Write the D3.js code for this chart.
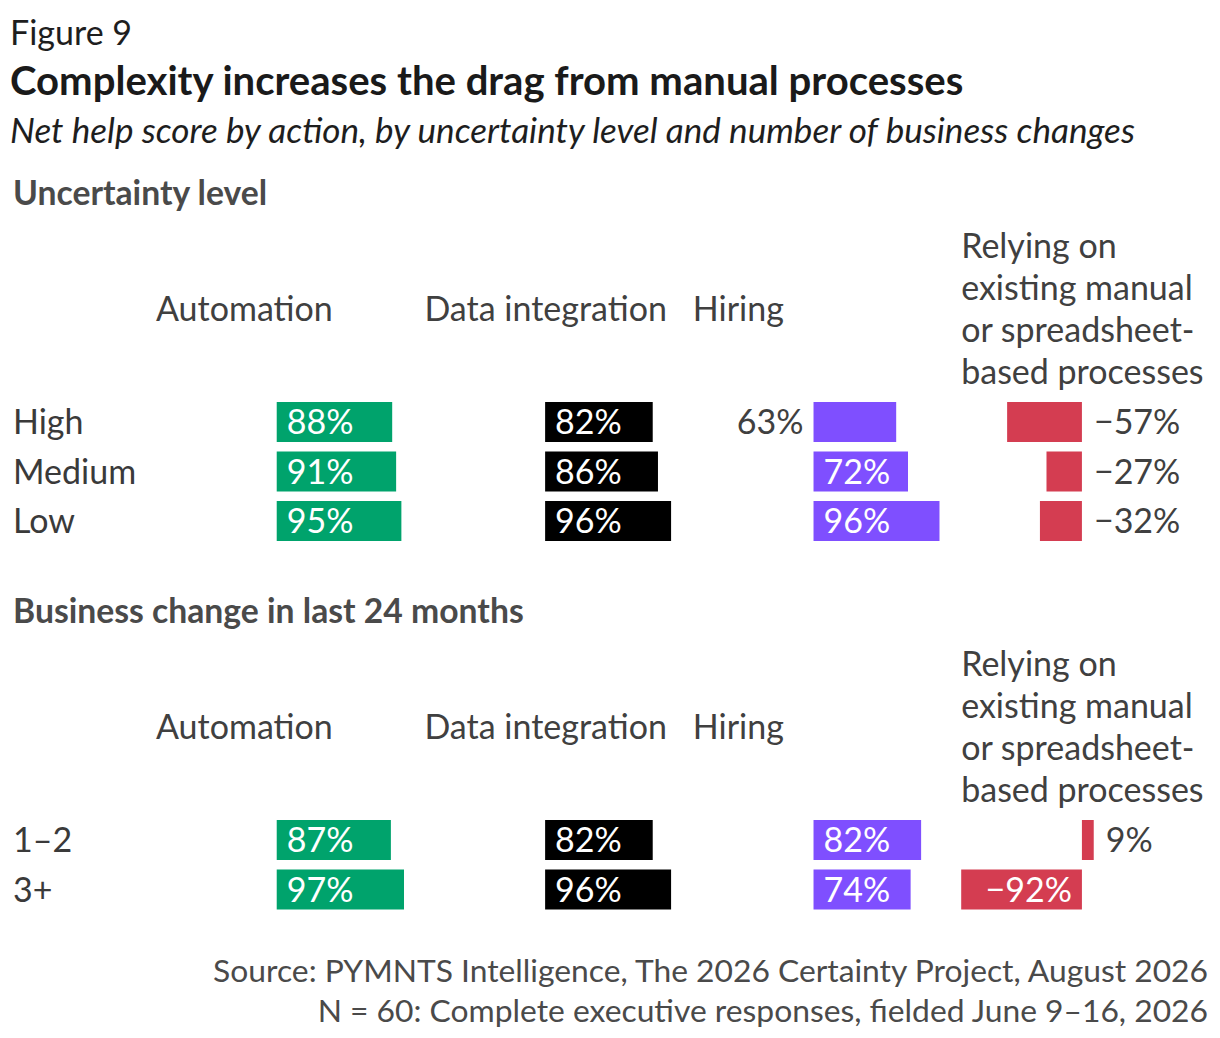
<!DOCTYPE html>
<html>
<head>
<meta charset="utf-8">
<script src="https://cdn.jsdelivr.net/npm/d3@7"></script>
<style>
  body { margin: 0; background: #fff; }
  text { font-family: Lato, "Noto Sans", sans-serif; }
</style>
</head>
<body>
<svg id="chart"></svg>
<script>
// actions shown as columns
const actions = ["Automation", "Data integration", "Hiring", "Relying"];
const actionHeaders = [
  ["Automation"],
  ["Data integration"],
  ["Hiring"],
  ["Relying on", "existing manual", "or spreadsheet-", "based processes"]
];

// panel 1: uncertainty level
const uncertaintyLevels = ["High", "Medium", "Low"];
const uncertaintyValues = [
  [88, 82, 63, -57],
  [91, 86, 72, -27],
  [95, 96, 96, -32]
];

// panel 2: business changes in last 24 months
const changeGroups = ["1–2", "3+"];
const changeValues = [
  [87, 82, 82, 9],
  [97, 96, 74, -92]
];

const panelTitles = ["Uncertainty level", "Business change in last 24 months"];

const colors = ["#00a36c", "#000000", "#7f4fff", "#d43d51"];
// where a label goes when it does not fit in its bar
const outsideSide = ["right", "right", "left", "right"];

const width = 1220, height = 1038;
const fs = 34;
const svg = d3.select("#chart")
  .attr("width", width)
  .attr("height", height);

svg.append("text")
  .attr("x", 10).attr("y", 45)
  .attr("font-size", 34)
  .attr("fill", "#1e1e1e")
  .text("Figure 9");

svg.append("text")
  .attr("x", 10).attr("y", 95)
  .attr("font-size", 40.1)
  .attr("font-weight", 700)
  .attr("fill", "#1a1a1a")
  .text("Complexity increases the drag from manual processes");

svg.append("text")
  .attr("x", 10).attr("y", 143)
  .attr("font-size", 35.1)
  .attr("font-style", "italic")
  .attr("fill", "#1e1e1e")
  .text("Net help score by action, by uncertainty level and number of business changes");

const allValues = uncertaintyValues.flat().concat(changeValues.flat());
const x = d3.scaleLinear()
  .domain([d3.min(allValues), d3.max(allValues)])
  .range([0, 248]);

const col = d3.scaleBand()
  .domain(actions)
  .range([156, 156 + 268.4 * actions.length]);

const fmt = v => (v < 0 ? "\u2212" : "") + Math.abs(v) + "%";

const panels = [
  { title: panelTitles[0], rows: uncertaintyLevels, values: uncertaintyValues, offset: 0 },
  { title: panelTitles[1], rows: changeGroups, values: changeValues, offset: 418 }
];

panels.forEach(p => {
  const g = svg.append("g").attr("transform", `translate(0,${p.offset})`);

  g.append("text")
    .attr("x", 13).attr("y", 205)
    .attr("font-size", 33.7)
    .attr("font-weight", 700)
    .attr("fill", "#4a4a4a")
    .text(p.title);

  // column headers, vertically centered on one line
  actions.forEach((a, i) => {
    const lines = actionHeaders[i];
    const t = g.append("text")
      .attr("font-size", fs)
      .attr("fill", "#404040");
    lines.forEach((l, j) => {
      t.append("tspan")
        .attr("x", col(a))
        .attr("y", 321 + (j - (lines.length - 1) / 2) * 42)
        .text(l);
    });
  });

  const y = d3.scaleBand()
    .domain(p.rows)
    .range([402, 402 + p.rows.length * 49.5 - 9.5])
    .paddingInner(9.5 / 49.5);

  g.selectAll(".rowlabel")
    .data(p.rows)
    .enter().append("text")
    .attr("class", "rowlabel")
    .attr("x", 13)
    .attr("y", d => y(d) + y.bandwidth() / 2 + 12)
    .attr("font-size", fs)
    .attr("fill", "#3a3a3a")
    .text(d => d);

  const cells = [];
  p.rows.forEach((r, ri) => {
    actions.forEach((a, ci) => {
      cells.push({ row: r, action: a, ci: ci, value: p.values[ri][ci] });
    });
  });

  const cell = g.selectAll(".cell")
    .data(cells)
    .enter().append("g")
    .attr("class", "cell")
    .attr("transform", d => `translate(${col(d.action)},${y(d.row)})`);

  cell.append("rect")
    .attr("x", d => x(Math.min(0, d.value)))
    .attr("y", 0)
    .attr("width", d => Math.abs(x(d.value) - x(0)))
    .attr("height", y.bandwidth())
    .attr("fill", d => colors[d.ci]);

  const pad = 10;
  cell.append("text")
    .attr("font-size", fs)
    .attr("y", y.bandwidth() / 2 + 12)
    .text(d => fmt(d.value))
    .each(function(d) {
      const t = d3.select(this);
      const tw = this.getComputedTextLength();
      const bw = Math.abs(x(d.value) - x(0));
      if (tw + 2 * pad <= bw) {
        t.attr("fill", "#fff");
        if (d.value >= 0) t.attr("x", x(0) + pad).attr("text-anchor", "start");
        else t.attr("x", x(0) - pad).attr("text-anchor", "end");
      } else {
        t.attr("fill", "#404040");
        if (outsideSide[d.ci] === "left") {
          t.attr("x", x(Math.min(0, d.value)) - pad).attr("text-anchor", "end");
        } else {
          t.attr("x", x(Math.max(0, d.value)) + pad + 2).attr("text-anchor", "start");
        }
      }
    });
});

svg.append("text")
  .attr("x", 1208).attr("y", 982)
  .attr("text-anchor", "end")
  .attr("font-size", 31.8)
  .attr("fill", "#4a4a4a")
  .text("Source: PYMNTS Intelligence, The 2026 Certainty Project, August 2026");

svg.append("text")
  .attr("x", 1208).attr("y", 1022)
  .attr("text-anchor", "end")
  .attr("font-size", 31.8)
  .attr("fill", "#4a4a4a")
  .text("N = 60: Complete executive responses, fielded June 9–16, 2026");
</script>
</body>
</html>
